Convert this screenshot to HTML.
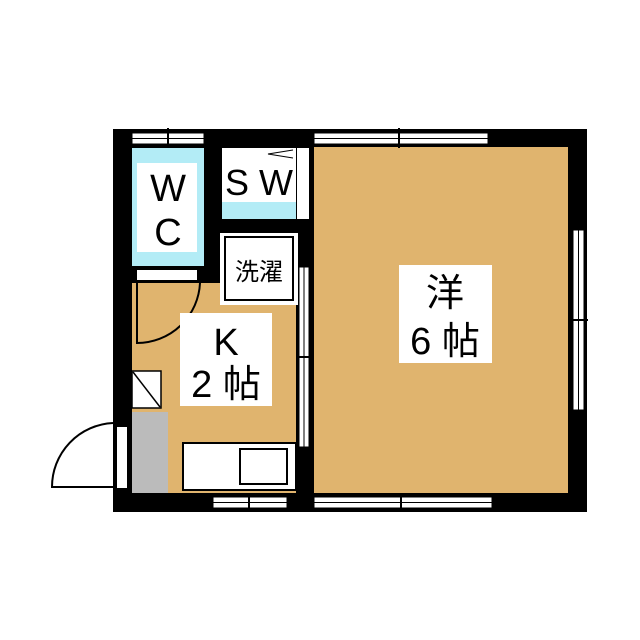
<!DOCTYPE html>
<html><head><style>body{margin:0;background:#fff}svg{display:block}</style></head><body>
<svg width="640" height="640" viewBox="0 0 640 640" xmlns="http://www.w3.org/2000/svg" font-family="Liberation Sans, Noto Sans CJK JP, sans-serif">
<rect x="113" y="129" width="474" height="383" fill="#000"/>
<rect x="314" y="147" width="254" height="346" fill="#e0b46e"/>
<rect x="132" y="148" width="72" height="118" fill="#b3ecf6"/>
<rect x="137" y="163" width="60" height="89" fill="#fff"/>
<rect x="222" y="148" width="74" height="71" fill="#fff"/>
<rect x="222" y="202" width="74" height="17" fill="#b3ecf6"/>
<rect x="297" y="148" width="12" height="71" fill="#fff"/>
<path d="M293 150 L268 154 L293 158" fill="none" stroke="#000" stroke-width="1"/>
<rect x="132" y="266" width="164" height="227" fill="#e0b46e"/>
<rect x="132" y="266" width="72" height="17" fill="#000"/>
<rect x="137" y="270" width="60" height="10" fill="#fff"/>
<rect x="204" y="219" width="18" height="64" fill="#000"/>
<rect x="222" y="219" width="74" height="16" fill="#000"/>
<rect x="220" y="233" width="78" height="72" fill="#fff"/>
<rect x="225" y="237" width="68" height="63" fill="#fff" stroke="#000" stroke-width="2"/>
<rect x="299" y="267" width="10" height="180" fill="#fff" stroke="#000" stroke-width="1"/>
<line x1="304" y1="267" x2="304" y2="447" stroke="#000" stroke-width="1"/>
<line x1="296" y1="357" x2="314" y2="357" stroke="#000" stroke-width="2"/>
<path d="M137 283 L137 343 A63 63 0 0 0 200 283" fill="none" stroke="#000" stroke-width="2"/>
<rect x="132" y="412" width="36" height="81" fill="#bbb"/>
<rect x="132" y="371" width="29" height="37" fill="#fff" stroke="#000" stroke-width="1.5"/>
<line x1="133" y1="372" x2="160" y2="407" stroke="#000" stroke-width="1.5"/>
<rect x="117" y="427" width="10" height="61" fill="#fff"/>
<path d="M113 423 A64 64 0 0 0 52 487 L113 487" fill="none" stroke="#000" stroke-width="2"/>
<rect x="183" y="443" width="113" height="47" fill="#fff" stroke="#000" stroke-width="2"/>
<rect x="240" y="449" width="47" height="35" fill="#fff" stroke="#000" stroke-width="2"/>
<g fill="#fff" stroke="#000" stroke-width="1">
<rect x="132" y="133" width="72" height="11"/>
<rect x="314" y="133" width="174" height="11"/>
<rect x="314" y="497" width="178" height="11"/>
<rect x="213" y="497" width="74" height="11"/>
<rect x="573" y="230" width="11" height="180"/>
</g>
<g stroke="#000" stroke-width="1">
<line x1="132" y1="138.5" x2="204" y2="138.5"/>
<line x1="314" y1="138.5" x2="488" y2="138.5"/>
<line x1="314" y1="502.5" x2="492" y2="502.5"/>
<line x1="213" y1="502.5" x2="287" y2="502.5"/>
<line x1="578.5" y1="230" x2="578.5" y2="410"/>
</g>
<g stroke="#000" stroke-width="2">
<line x1="168" y1="128" x2="168" y2="148"/>
<line x1="399" y1="128" x2="399" y2="148"/>
<line x1="401" y1="493" x2="401" y2="512"/>
<line x1="249" y1="493" x2="249" y2="512"/>
<line x1="568" y1="320" x2="588" y2="320"/>
</g>
<rect x="180" y="313" width="92" height="93" fill="#fff"/>
<rect x="399" y="265" width="93" height="98" fill="#fff"/>
<g font-size="38" text-anchor="middle" fill="#000">
<text x="168" y="201">W</text>
<text x="168" y="245">C</text>
<text x="259" y="195" font-size="36">S W</text>
<text x="226" y="355">K</text>
<text x="226" y="397">2 帖</text>
<text x="445" y="306">洋</text>
<text x="445" y="354">6 帖</text>
<text x="259" y="280" font-size="24">洗濯</text>
</g>
</svg>
</body></html>
